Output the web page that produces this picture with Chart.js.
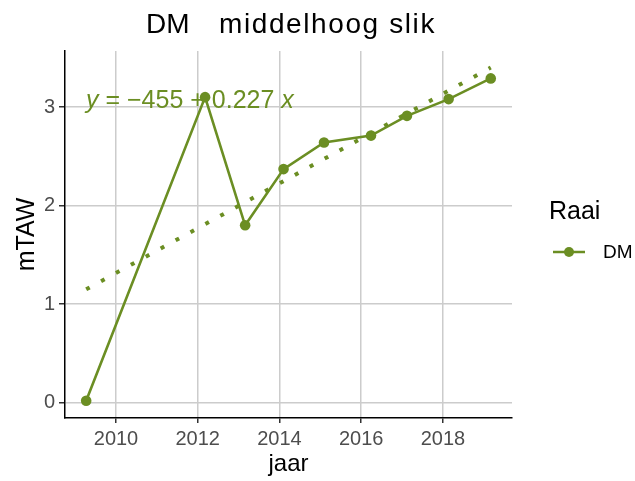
<!DOCTYPE html>
<html>
<head>
<meta charset="utf-8">
<script src="https://cdn.jsdelivr.net/npm/chart.js@4"></script>
<style>
  body { margin: 0; background: #fff; }
  #graph { display: block; }
</style>
</head>
<body>
<canvas id="graph" width="635" height="481"></canvas>
<script>
// DM middelhoog slik - hoogte per jaar
const years = [2009.27, 2012.18, 2013.16, 2014.10, 2015.09, 2016.24, 2017.12, 2018.14, 2019.17];
const mtaw = [0.02, 3.10, 1.80, 2.37, 2.64, 2.71, 2.91, 3.08, 3.29];
// trendlijn (lm), begin en eind
const trendX = [2009.27, 2019.17];
const trendY = [1.15, 3.40];
const xTicks = [2010, 2012, 2014, 2016, 2018];
const yTicks = [0, 1, 2, 3];
const seriesName = 'DM';
const titleParts = ['DM', 'middelhoog slik'];
const eqParts = [['y', true], [' = \u2212455 + 0.227 ', false], ['x', true]];

const green = '#6b8e23';
const FONT = "'Liberation Sans', Arial, sans-serif";

const extras = {
    id: 'extras',
    beforeDatasetsDraw(chart) {
        // formule boven in het panel
        const c = chart.ctx;
        c.save();
        c.fillStyle = green;
        c.textBaseline = 'middle';
        let x = 86;
        for (const [t, it] of eqParts) {
            c.font = (it ? 'italic ' : '') + '25px ' + FONT;
            c.fillText(t, x, 101);
            x += c.measureText(t).width;
        }
        c.restore();
    },
    afterDraw(chart) {
        const c = chart.ctx;
        c.save();
        // titel
        c.fillStyle = '#000';
        c.font = '28px ' + FONT;
        c.textAlign = 'left';
        c.textBaseline = 'alphabetic';
        c.fillText(titleParts[0], 146, 33);
        c.letterSpacing = '1.6px';
        c.fillText(titleParts[1], 219, 33);
        c.letterSpacing = '0px';
        // legende
        c.font = '25px ' + FONT;
        c.fillText('Raai', 549, 219);
        c.strokeStyle = green;
        c.lineWidth = 2.5;
        c.beginPath();
        c.moveTo(553, 252);
        c.lineTo(585, 252);
        c.stroke();
        c.fillStyle = green;
        c.beginPath();
        c.arc(569, 252, 5, 0, Math.PI * 2);
        c.fill();
        c.fillStyle = '#000';
        c.font = '19px ' + FONT;
        c.textBaseline = 'middle';
        c.fillText(seriesName, 603, 253);
        c.restore();
    }
};

new Chart(document.getElementById('graph'), {
    type: 'line',
    data: {
        datasets: [{
            label: seriesName,
            data: years.map((x, i) => ({ x: x, y: mtaw[i] })),
            borderColor: green,
            backgroundColor: green,
            borderWidth: 2.6,
            pointRadius: 5.3,
            pointBorderWidth: 0,
            tension: 0
        }, {
            label: 'trend',
            data: trendX.map((x, i) => ({ x: x, y: trendY[i] })),
            borderColor: green,
            borderWidth: 4,
            borderDash: [4, 13],
            borderCapStyle: 'butt',
            pointRadius: 0,
            tension: 0
        }]
    },
    options: {
        responsive: false,
        animation: false,
        layout: { padding: { left: 0, top: 51, right: 123, bottom: 0 } },
        plugins: {
            legend: { display: false },
            title: { display: false },
            tooltip: { enabled: false }
        },
        scales: {
            x: {
                type: 'linear',
                min: 2008.752,
                max: 2019.69,
                afterBuildTicks: s => { s.ticks = xTicks.map(v => ({ value: v })); },
                afterFit: s => { s.height = 63; s.paddingLeft = 0; s.paddingRight = 0; },
                grid: { color: '#cccccc', lineWidth: 1.5, tickColor: '#333', tickLength: 5 },
                border: { display: true, color: '#000', width: 1.5 },
                ticks: { color: '#4d4d4d', font: { family: FONT, size: 20 }, padding: 4, maxRotation: 0, callback: v => String(v) },
                title: { display: true, text: 'jaar', color: '#000', font: { family: FONT, size: 24 }, padding: { top: 0, bottom: 2 } }
            },
            y: {
                min: -0.155,
                max: 3.568,
                afterBuildTicks: s => { s.ticks = yTicks.map(v => ({ value: v })); },
                afterFit: s => { s.width = 65; s.paddingTop = 0; s.paddingBottom = 0; },
                grid: { color: '#cccccc', lineWidth: 1.5, tickColor: '#333', tickLength: 6 },
                border: { display: true, color: '#000', width: 1.5 },
                ticks: { color: '#4d4d4d', font: { family: FONT, size: 20 }, padding: 4, callback: v => String(v) },
                title: { display: true, text: 'mTAW', color: '#000', font: { family: FONT, size: 25 }, padding: { top: 12, bottom: 0 } }
            }
        }
    },
    plugins: [extras]
});
</script>
</body>
</html>
